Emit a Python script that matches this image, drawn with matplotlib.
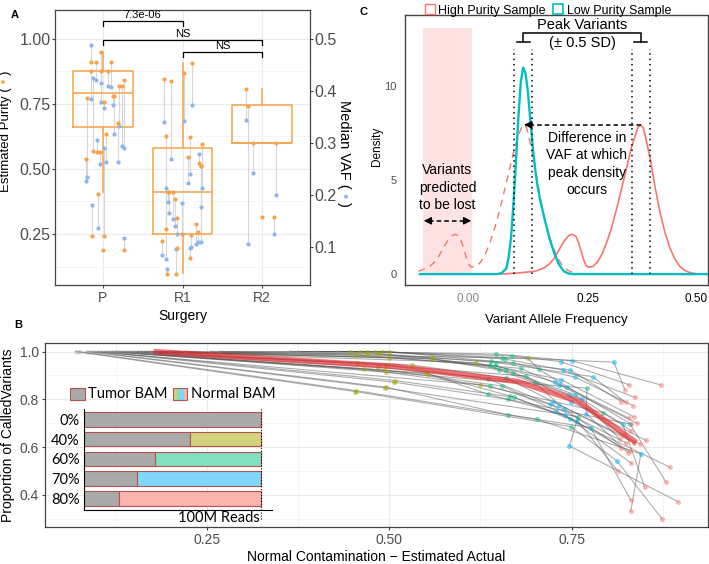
import numpy as np
import matplotlib.pyplot as plt
from matplotlib.patches import Rectangle, Patch

plt.rcParams['font.family'] = ['Liberation Sans', 'DejaVu Sans']

W, H = 709, 564

# ---------------- panel A data ----------------
surgery = ['P', 'R1', 'R2']
p_off = [-0.195, -0.207, -0.154, -0.145, -0.137, -0.124, -0.083, -0.075, -0.062, -0.041,
         -0.029, -0.02, 0.012, 0.02, 0.005, 0.041, 0.07, 0.104, 0.124, 0.137,
         0.195, 0.207, 0.237, 0.261, 0.261]
p_purity = [0.774, 0.537, 0.877, 0.91, 0.242, 0.569, 0.91, 0.564, 0.404, 0.564,
            0.947, 0.877, 0.755, 0.242, 0.189, 0.633, 0.877, 0.91, 0.78, 0.78,
            0.678, 0.82, 0.82, 0.84, 0.189]
p_vaf = [0.235, 0.226, 0.385, 0.488, 0.18, 0.425, 0.42, 0.305, 0.137, 0.259,
         0.415, 0.378, 0.366, 0.29, np.nan, 0.263, 0.41, 0.408, 0.373, 0.317,
         0.263, 0.332, 0.293, 0.29, 0.118]
r1_off = [-0.261, -0.228, -0.212, -0.199, -0.207, -0.178, -0.166, -0.149, -0.116, -0.095,
          -0.087, -0.075, -0.066, -0.012, 0.021, 0.075, 0.091, 0.1, 0.112, 0.124,
          0.174, 0.195, 0.207, 0.228, 0.241, 0.237]
r1_purity = [0.224, 0.846, 0.268, 0.096, 0.627, 0.41, 0.41, 0.836, 0.41, 0.383,
             0.096, 0.31, 0.195, 0.249, 0.87, 0.544, 0.624, 0.159, 0.246, 0.906,
             0.287, 0.256, 0.522, 0.51, 0.595, 0.51]
r1_vaf = [0.085, 0.34, 0.213, 0.057, 0.077, 0.187, 0.166, 0.268, 0.154, 0.141,
          0.096, 0.125, np.nan, 0.184, 0.341, 0.223, 0.24, 0.099, 0.1, 0.372,
          0.105, 0.109, 0.278, 0.177, 0.213, 0.109]
r2_off = [-0.207, -0.174, -0.116, -0.008, 0.145, 0.174]
r2_purity = [0.805, 0.742, 0.599, 0.317, 0.317, 0.599]
r2_vaf = [0.343, 0.106, 0.243, np.nan, 0.125, 0.199]

box_lo = [0.41, 0.10, 0.60]
box_q1 = [0.66, 0.25, 0.60]
box_med = [0.79, 0.41, 0.60]
box_q3 = [0.875, 0.58, 0.745]
box_hi = [0.945, 0.905, 0.805]

sig_pairs = [(1, 2), (1, 3), (2, 3)]
sig_labels = ['7.3e-06', 'NS', 'NS']
sig_y = [1.067, 0.996, 0.949]

# ---------------- panel B data ----------------
levels = ['0%', '40%', '60%', '70%', '80%']
x_0 = [0.43, 0.40, 0.375, 0.364, 0.266, 0.255, 0.22, 0.20, 0.18, 0.175,
       0.17, 0.165, 0.16, 0.155, 0.15, 0.145, 0.14, 0.135, 0.13, 0.125,
       0.12, 0.115, 0.11, 0.105, 0.10, 0.095, 0.09, 0.085, 0.075, 0.07]
y_0 = [1.0] * 30
x_40 = [0.446, 0.47, 0.48, 0.49, 0.50, 0.46, 0.47, 0.485, 0.453, 0.50,
        0.69, 0.558, 0.558, 0.619, 0.456, 0.531, 0.496, 0.484, 0.465, 0.494,
        0.496, 0.551, 0.553, 0.508, 0.507, 0.624, 0.496, 0.494, 0.454, 0.453]
y_40 = [1.0, 1.0, 1.0, 1.0, 1.0, 0.998, 0.99, 0.99, 0.986, 0.975,
        0.972, 0.972, 0.969, 0.954, 0.951, 0.944, 0.944, 0.935, 0.926, 0.923,
        0.914, 0.91, 0.907, 0.879, 0.872, 0.861, 0.851, 0.848, 0.837, 0.833]
x_60 = [0.646, 0.668, 0.655, 0.659, 0.64, 0.647, 0.669, 0.638, 0.645, 0.68,
        0.705, 0.66, 0.65, 0.669, 0.687, 0.66, 0.635, 0.70, 0.638, 0.655,
        0.771, 0.635, 0.665, 0.671, 0.663, 0.793, 0.663, 0.759, 0.702, 0.749]
y_60 = [0.99, 0.982, 0.975, 0.969, 0.96, 0.954, 0.954, 0.944, 0.94, 0.93,
        0.926, 0.923, 0.923, 0.91, 0.898, 0.89, 0.886, 0.87, 0.856, 0.856,
        0.847, 0.822, 0.815, 0.809, 0.80, 0.745, 0.735, 0.728, 0.717, 0.686]
x_70 = [0.75, 0.735, 0.808, 0.738, 0.748, 0.779, 0.755, 0.736, 0.727, 0.733,
        0.744, 0.755, 0.746, 0.764, 0.749, 0.725, 0.72, 0.733, 0.74, 0.729,
        0.77, 0.741, 0.748, 0.758, 0.83, 0.82, 0.776, 0.747, 0.845, 0.812]
y_70 = [0.962, 0.958, 0.956, 0.923, 0.923, 0.895, 0.893, 0.882, 0.874, 0.86,
        0.853, 0.819, 0.819, 0.80, 0.791, 0.79, 0.78, 0.777, 0.76, 0.752,
        0.74, 0.735, 0.717, 0.71, 0.697, 0.697, 0.682, 0.605, 0.572, 0.543]
x_80 = [0.872, 0.829, 0.823, 0.837, 0.818, 0.824, 0.834, 0.835, 0.829, 0.84,
        0.832, 0.832, 0.82, 0.816, 0.852, 0.835, 0.825, 0.844, 0.818, 0.83,
        0.827, 0.832, 0.885, 0.813, 0.879, 0.85, 0.831, 0.896, 0.831, 0.874]
y_80 = [0.861, 0.861, 0.84, 0.808, 0.791, 0.788, 0.774, 0.728, 0.721, 0.70,
        0.696, 0.668, 0.65, 0.633, 0.628, 0.619, 0.617, 0.613, 0.596, 0.582,
        0.577, 0.533, 0.516, 0.502, 0.456, 0.435, 0.379, 0.372, 0.331, 0.30]
tumor_frac = [1.0, 0.6, 0.4, 0.3, 0.2]

# ---------------- panel C data ----------------
vaf_low = [-0.1, 0.06, 0.07, 0.08, 0.085, 0.09, 0.095, 0.1, 0.105, 0.11, 0.115, 0.12,
           0.125, 0.13, 0.135, 0.14, 0.145, 0.15, 0.16, 0.17, 0.18, 0.19, 0.2, 0.21,
           0.22, 0.5]
dens_low = [0, 0, 0.05, 0.3, 0.9, 2.0, 3.8, 6.0, 8.3, 10.2, 11.0, 10.7,
            9.7, 8.2, 6.8, 5.6, 4.7, 4.0, 2.9, 1.9, 1.1, 0.5, 0.15, 0.03,
            0, 0]
vaf_high = [-0.1, 0.05, 0.08, 0.1, 0.12, 0.14, 0.15, 0.16, 0.17, 0.18, 0.19, 0.2, 0.21,
            0.217, 0.225, 0.23, 0.235, 0.24, 0.245, 0.25, 0.26, 0.27, 0.28, 0.29, 0.3,
            0.31, 0.32, 0.33, 0.34, 0.35, 0.355, 0.36, 0.365, 0.37, 0.38, 0.39, 0.4,
            0.41, 0.42, 0.43, 0.44, 0.45, 0.46, 0.47, 0.48, 0.5]
dens_high = [0, 0, 0.02, 0.05, 0.1, 0.15, 0.25, 0.35, 0.55, 0.85, 1.3, 1.75, 2.05,
             2.12, 2.0, 1.7, 1.3, 0.85, 0.5, 0.37, 0.4, 0.65, 1.1, 1.75, 2.55,
             3.5, 4.55, 5.6, 6.7, 7.5, 7.85, 7.95, 7.8, 7.3, 6.1, 4.6, 3.3,
             2.25, 1.45, 0.85, 0.45, 0.22, 0.1, 0.04, 0.01, 0]
peak_shift = 0.243
half_sd = 0.0185
lost_region = [-0.094, 0.009]


def rect(l, t, r, b):
    return [l / W, 1 - b / H, (r - l) / W, (b - t) / H]


orange = '#F7A24A'
blue = '#8DB5EE'
red = '#F8766D'
cyan = '#00BFC4'
tick_grey = '#4D4D4D'
frame = '#444444'

fig = plt.figure(figsize=(W / 100, H / 100), dpi=100)

# ================= A =================
axA = fig.add_axes(rect(55, 10, 310, 285))
groups = [(p_off, p_purity, p_vaf), (r1_off, r1_purity, r1_vaf), (r2_off, r2_purity, r2_vaf)]
for i, (off, pur, vaf) in enumerate(groups):
    xs = i + 1 + np.array(off)
    v2 = np.array(vaf) * 2  # VAF drawn on the purity scale (right axis = left / 2)
    for x, a, b in zip(xs, pur, v2):
        if not np.isnan(b):
            axA.plot([x, x], [a, b], color='#D6D6D6', lw=0.8, zorder=1)
    axA.scatter(xs, v2, s=9, color=blue, lw=0, zorder=3)
    axA.scatter(xs, pur, s=9, color=orange, lw=0, zorder=4)

stats = [dict(whislo=a, q1=b, med=c, q3=d, whishi=e)
         for a, b, c, d, e in zip(box_lo, box_q1, box_med, box_q3, box_hi)]
axA.bxp(stats, positions=[1, 2, 3], widths=0.75, showfliers=False, showcaps=False,
        boxprops=dict(color=orange, lw=1.1), whiskerprops=dict(color=orange, lw=1.1),
        medianprops=dict(color=orange, lw=1.1))

for (a, b), lab, y in zip(sig_pairs, sig_labels, sig_y):
    axA.plot([a, a, b, b], [y - 0.02, y, y, y - 0.02], color='k', lw=0.9)
    axA.text((a + b) / 2, y + 0.004, lab, ha='center', va='bottom', fontsize=8)

axA.set_xlim(0.4, 3.6)
axA.set_ylim(0.054, 1.11)
axA.set_xticks([1, 2, 3], surgery)
axA.set_yticks([0.25, 0.5, 0.75, 1.0], ['0.25', '0.50', '0.75', '1.00'])
axA.set_yticks([0.125, 0.375, 0.625, 0.875], minor=True)
axA.grid(which='major', color='#EBEBEB', lw=0.8)
axA.grid(which='minor', color='#F2F2F2', lw=0.5)
axA.set_axisbelow(True)
axA.tick_params(axis='y', labelsize=11.5, labelcolor=tick_grey, length=2, pad=1, color=frame)
axA.tick_params(axis='x', labelsize=10, labelcolor=tick_grey, length=2.5, pad=2, color=frame)
axA.tick_params(which='minor', length=0)
axA.set_xlabel('Surgery', fontsize=10, labelpad=3)
for s in axA.spines.values():
    s.set_color(frame)
    s.set_linewidth(0.9)

axA2 = axA.twinx()
axA2.set_ylim(0.054 / 2, 1.11 / 2)
axA2.set_yticks([0.1, 0.2, 0.3, 0.4, 0.5], ['0.1', '0.2', '0.3', '0.4', '0.5'])
axA2.tick_params(axis='y', labelsize=11.5, labelcolor=tick_grey, length=2, pad=1, color=frame)
for s in axA2.spines.values():
    s.set_visible(False)

# y labels with coloured dots
t1 = fig.text(6 / W, 1 - 192 / H, 'Estimated Purity (', rotation=90, ha='center',
              va='bottom', fontsize=9.5)
t2 = axA.annotate(' \u2022 ', xy=(0.5, 1), xycoords=t1, rotation=90, ha='center',
                  va='bottom', fontsize=9.5, color=orange, annotation_clip=False)
axA.annotate(')', xy=(0.5, 1), xycoords=t2, rotation=90, ha='center', va='bottom',
             fontsize=9.5, annotation_clip=False)
r1t = fig.text(344 / W, 1 - 100 / H, 'Median VAF (', rotation=270, ha='center',
               va='top', fontsize=10.5)
r2t = axA.annotate(' \u2022 ', xy=(0.5, 0), xycoords=r1t, rotation=270, ha='center',
                   va='top', fontsize=10.5, color=blue, annotation_clip=False)
axA.annotate(')', xy=(0.5, 0), xycoords=r2t, rotation=270, ha='center', va='top',
             fontsize=10.5, annotation_clip=False)

fig.text(15 / W, 1 - 15 / H, 'A', fontsize=8, weight='bold', ha='center', va='center')

# ================= C =================
axC = fig.add_axes(rect(405, 15, 708, 285))
axC.fill_between(lost_region, 0, 13.1, color='#FDE2E2', lw=0, zorder=0)
hx = np.array(vaf_high)
hy = np.array(dens_high)
axC.plot(hx, hy, color=red, lw=1.2, zorder=2)
shifted = hx - peak_shift
keep = shifted >= -0.105
axC.plot(shifted[keep], hy[keep], color=red, lw=1, ls=(0, (5, 4)), zorder=2)
axC.plot(vaf_low, dens_low, color=cyan, lw=1.7, zorder=3)

hi_peak = hx[np.argmax(hy)]
lo_peak = vaf_low[int(np.argmax(dens_low))]
dash_peak = hi_peak - peak_shift
ymax = hy.max()
for pk in (lo_peak, hi_peak):
    for v in (pk - half_sd, pk + half_sd):
        axC.plot([v, v], [0, 12.0], color='k', ls=(0, (1, 2.5)), lw=1.1, zorder=4)
    axC.plot([pk - 0.0135, pk + 0.0135], [12.36, 12.36], color='k', lw=1.1)
axC.plot([lo_peak, lo_peak, hi_peak, hi_peak], [12.36, 12.85, 12.85, 12.36], color='k', lw=1.1)
mid = (lo_peak + hi_peak) / 2
axC.text(mid, 13.25, 'Peak Variants', ha='center', va='center', fontsize=10.5)
axC.text(mid, 12.3, '(\u00b1 0.5 SD)', ha='center', va='center', fontsize=10.5)

axC.plot([hi_peak, dash_peak + 0.012], [ymax, ymax], color='k', ls=(0, (3, 2)), lw=1.1)
axC.annotate('', xy=(dash_peak, ymax), xytext=(dash_peak + 0.016, ymax),
             arrowprops=dict(arrowstyle='-|>', color='k', lw=1, mutation_scale=11,
                             shrinkA=0, shrinkB=0))
axC.text(0.248, 5.87, 'Difference in\nVAF at which\npeak density\noccurs', ha='center',
         va='center', fontsize=10, linespacing=1.3)

ly = 2.84
axC.plot([lost_region[0] + 0.012, lost_region[1] - 0.012], [ly, ly], color='k',
         ls=(0, (3, 2)), lw=1.1)
for tip, tail in ((lost_region[0] + 0.002, lost_region[0] + 0.016),
                  (lost_region[1] - 0.002, lost_region[1] - 0.016)):
    axC.annotate('', xy=(tip, ly), xytext=(tail, ly),
                 arrowprops=dict(arrowstyle='-|>', color='k', lw=1, mutation_scale=11,
                                 shrinkA=0, shrinkB=0))
axC.text(np.mean(lost_region), 4.6, 'Variants\npredicted\nto be lost', ha='center',
         va='center', fontsize=10, linespacing=1.3)

axC.set_xlim(-0.131, 0.5)
axC.set_ylim(-0.58, 13.8)
axC.set_xticks([0, 0.25, 0.5], ['0.00', '0.25', '0.50'])
axC.set_yticks([0, 5, 10])
axC.tick_params(length=0, pad=6, labelsize=8.5)
axC.tick_params(axis='y', labelcolor=tick_grey, labelsize=8)
xt = axC.get_xticklabels()
xt[0].set_color('#888888')
xt[2].set_ha('right')
fig.text(377 / W, 1 - 146 / H, 'Density', rotation=90, ha='center', va='center', fontsize=8.5)
axC.set_xlabel('Variant Allele Frequency', fontsize=9.5, labelpad=6)
for s in axC.spines.values():
    s.set_color(frame)
    s.set_linewidth(1)

fig.legend(handles=[Patch(fc='white', ec=red, lw=1), Patch(fc='white', ec=cyan, lw=1.2)],
           labels=['High Purity Sample', 'Low Purity Sample'], loc='upper center',
           bbox_to_anchor=(548 / W, 1.012), ncol=2, frameon=False, fontsize=9,
           handlelength=0.8, handleheight=0.8, handletextpad=0.3, columnspacing=0.6)
fig.text(363 / W, 1 - 12 / H, 'C', fontsize=8, weight='bold', ha='center', va='center')

# ================= B =================
axB = fig.add_axes(rect(45, 343, 708, 527))
xs_all = [x_0, x_40, x_60, x_70, x_80]
ys_all = [y_0, y_40, y_60, y_70, y_80]
level_colors = ['#999999', '#A3A500', '#00BF7D', '#00B0F6', '#F8766D']
for i in range(len(x_0)):
    axB.plot([xl[i] for xl in xs_all], [yl[i] for yl in ys_all], color='#4D4D4D',
             alpha=0.45, lw=0.8, zorder=2)
for xl, yl, c in zip(xs_all, ys_all, level_colors):
    axB.scatter(xl, yl, s=13, color=c, alpha=0.5 if c != '#999999' else 0.3, lw=0, zorder=3)
axB.plot([np.mean(xl) for xl in xs_all], [np.mean(yl) for yl in ys_all], color='#E8282B',
         alpha=0.65, lw=4, zorder=4, solid_capstyle='butt')

axB.set_xlim(0.028, 0.937)
axB.set_ylim(0.266, 1.036)
axB.set_xticks([0.25, 0.5, 0.75], ['0.25', '0.50', '0.75'])
axB.set_xticks([0.125, 0.375, 0.625, 0.875], minor=True)
axB.set_yticks([0.4, 0.6, 0.8, 1.0], ['0.4', '0.6', '0.8', '1.0'])
axB.set_yticks([0.3, 0.5, 0.7, 0.9], minor=True)
axB.grid(which='major', color='#EBEBEB', lw=0.8)
axB.grid(which='minor', color='#F2F2F2', lw=0.5)
axB.set_axisbelow(True)
axB.tick_params(labelsize=10, labelcolor=tick_grey, length=2.5, pad=2, color=frame)
axB.tick_params(which='minor', length=0)
axB.set_xlabel('Normal Contamination \u2212 Estimated Actual', fontsize=10, labelpad=2)
axB.set_ylabel('Proportion of CalledVariants', fontsize=10, labelpad=3)
for s in axB.spines.values():
    s.set_color(frame)
    s.set_linewidth(0.9)
fig.text(18 / W, 1 - 325 / H, 'B', fontsize=8, weight='bold', ha='center', va='center')

# inset read-mix bars
lato = ['Lato', 'DejaVu Sans']
axI = fig.add_axes(rect(84, 409, 272, 510))
axI.patch.set_alpha(0)
ypos = np.arange(len(levels))
tumor = np.array(tumor_frac)
normal_colors = ['#AAAAAA', '#D3D27F', '#7FDFBE', '#7FD7FA', '#FBB4AE']
bar_edge = '#B5534F'
axI.barh(ypos, tumor, height=0.73, color='#AAAAAA', edgecolor=bar_edge, lw=0.8)
axI.barh(ypos, 1 - tumor, left=tumor, height=0.73, color=normal_colors,
         edgecolor=bar_edge, lw=0.8)
axI.plot([1, 1], [-0.52, 5.1], color='k', ls=':', lw=0.8, clip_on=False)
axI.set_xlim(0, 1.062)
axI.set_ylim(4.58, -0.52)
axI.set_xticks([])
axI.set_yticks(ypos, levels, fontsize=10.5, family=lato)
axI.tick_params(length=0, pad=3)
axI.spines['top'].set_visible(False)
axI.spines['right'].set_visible(False)
axI.spines['left'].set_color('k')
axI.spines['bottom'].set_color('k')
axI.text(0.99, 4.98, '100M Reads', ha='right', va='center', fontsize=10.5, family=lato,
         clip_on=False)

# inset legend
fig.add_artist(Rectangle((70 / W, 1 - 400 / H), 15 / W, 12 / H, transform=fig.transFigure,
                         fc='#AAAAAA', ec=bar_edge, lw=0.8))
fig.text(88 / W, 1 - 394 / H, 'Tumor BAM', fontsize=10.5, family=lato, va='center')
for k, c in enumerate(normal_colors[1:]):
    fig.add_artist(Rectangle(((173 + 3.5 * k) / W, 1 - 400 / H), 3.5 / W, 12 / H,
                             transform=fig.transFigure, fc=c, lw=0))
fig.add_artist(Rectangle((173 / W, 1 - 400 / H), 14 / W, 12 / H, transform=fig.transFigure,
                         fc='none', ec=bar_edge, lw=0.8))
fig.text(191 / W, 1 - 394 / H, 'Normal BAM', fontsize=10.5, family=lato, va='center')

fig.savefig('out.png', dpi=100)
